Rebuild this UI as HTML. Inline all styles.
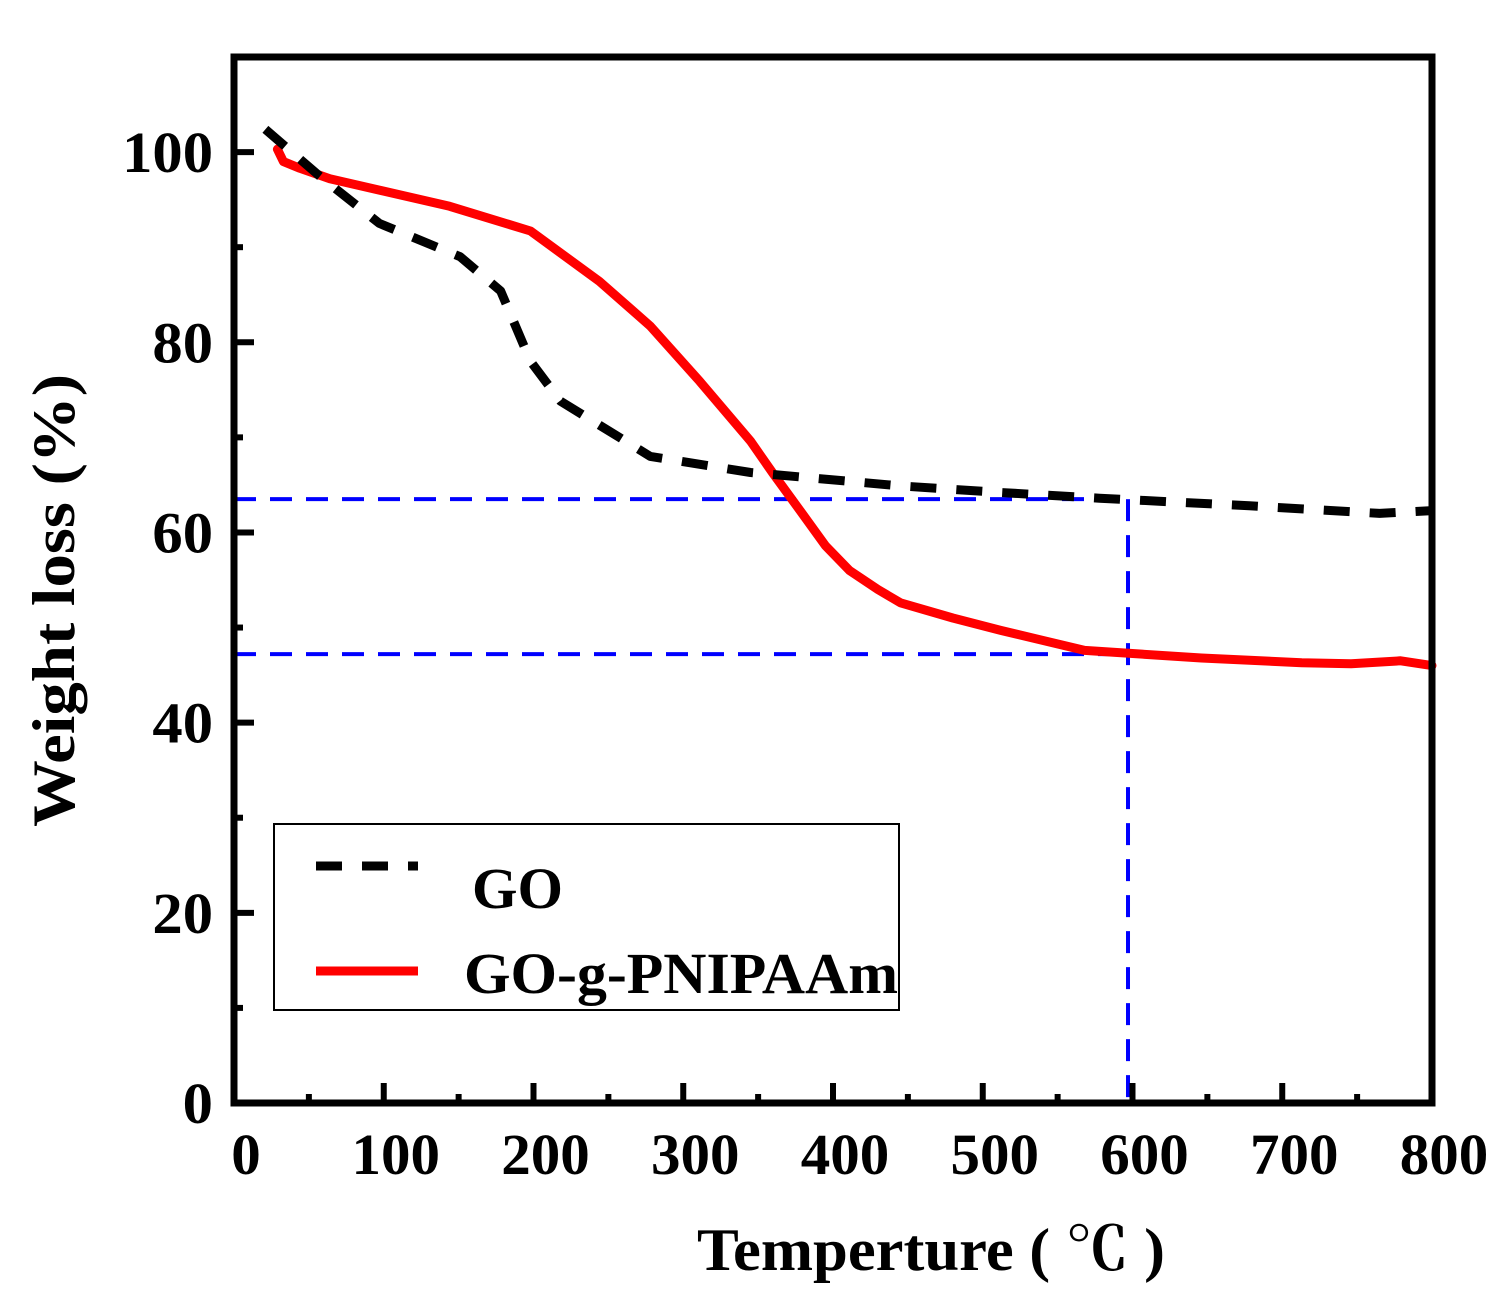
<!DOCTYPE html>
<html><head><meta charset="utf-8"><style>
body{margin:0;background:#fff}
svg text{font-family:"Liberation Serif","Noto Serif CJK SC",serif;font-weight:bold}
</style></head><body>
<svg width="1509" height="1304" xmlns="http://www.w3.org/2000/svg">
<g id="plot"></g>
</svg>
<script>
const goT=[21,57,97,151,178,198,218,278,345,445,512,578,678,765,800];
const goW=[102.4,97.5,92.5,89,85.4,78,73.8,68,66.3,64.9,64.2,63.6,62.8,62,62.3];
const pnT=[29,33,44,64,144,198,244,278,311,345,360,378,395,411,430,445,480,512,568,646,713,746,779,800];
const pnW=[100.3,99,98.3,97.2,94.3,91.7,86.4,81.7,75.9,69.6,66.2,62.3,58.6,56,54,52.6,51,49.7,47.6,46.8,46.3,46.2,46.5,46];
const xTicks=[0,100,200,300,400,500,600,700,800];
const yTicks=[0,20,40,60,80,100];
const refGO=63.5, refPN=47.2, refT=597;

const X0=234,X1=1432,Y0=1103,Y1=57;
const sx=t=>X0+(t-0)*(X1-X0)/800;
const sy=v=>Y0-(v-0)*(Y0-Y1)/110;
const ns="http://www.w3.org/2000/svg";
const g=document.getElementById('plot');
function mk(tag,attrs){const e=document.createElementNS(ns,tag);for(const k in attrs)e.setAttribute(k,attrs[k]);g.appendChild(e);return e;}
function pts(T,W){return T.map((t,i)=>sx(t).toFixed(1)+','+sy(W[i]).toFixed(1)).join(' ');}

let e=mk('line',{x1:X0,y1:sy(refGO),x2:sx(refT),y2:sy(refGO),stroke:'#0000ff','stroke-width':4,'stroke-dasharray':'22 14'});


e=mk('line',{x1:X0,y1:sy(refPN),x2:sx(refT),y2:sy(refPN),stroke:'#0000ff','stroke-width':4,'stroke-dasharray':'22 14'});


e=mk('line',{x1:sx(refT),y1:sy(refGO),x2:sx(refT),y2:Y0,stroke:'#0000ff','stroke-width':4,'stroke-dasharray':'22 14'});



e=mk('polyline',{points:pts(pnT,pnW),fill:'none',stroke:'#ff0000','stroke-width':9,'stroke-linejoin':'round','stroke-linecap':'round'});


e=mk('polyline',{points:pts(goT,goW),fill:'none',stroke:'#000','stroke-width':9,'stroke-dasharray':'26 20','stroke-linejoin':'round'});



e=mk('rect',{x:X0,y:Y1,width:X1-X0,height:Y0-Y1,fill:'none',stroke:'#000','stroke-width':7});



xTicks.forEach((t,i)=>{
  let l=mk('line',{x1:sx(t),y1:Y0,x2:sx(t),y2:Y0-20,stroke:'#000','stroke-width':6});
  
  
  if(i<xTicks.length-1){let m=mk('line',{x1:sx(t+50),y1:Y0,x2:sx(t+50),y2:Y0-9,stroke:'#000','stroke-width':6});
  
  }
  const s=String(t);
  let tx=mk('text',{x:sx(t)+12,y:1174,'font-size':58,'text-anchor':'middle',textLength:s.length*29.5,lengthAdjust:'spacingAndGlyphs'});tx.textContent=s;
  
  
});
yTicks.forEach((v,i)=>{
  let l=mk('line',{x1:X0,y1:sy(v),x2:X0+20,y2:sy(v),stroke:'#000','stroke-width':6});
  
  
  let m=mk('line',{x1:X0,y1:sy(v+10),x2:X0+9,y2:sy(v+10),stroke:'#000','stroke-width':6});
  
  
  const s=String(v);
  let tx=mk('text',{x:213-s.length*30.3,y:sy(v)+20,'font-size':58,textLength:s.length*30.3,lengthAdjust:'spacingAndGlyphs'});tx.textContent=s;
  
  
});

e=mk('text',{x:-226,y:0,'font-size':60,textLength:453,lengthAdjust:'spacingAndGlyphs',transform:'translate(74,601) rotate(-90)'});e.textContent='Weight loss (%)';


e=mk('text',{x:697,y:1270,'font-size':60,textLength:468,lengthAdjust:'spacingAndGlyphs'});e.textContent='Temperture ( ℃  )';



e=mk('rect',{x:274,y:824,width:625,height:186,fill:'#fff',stroke:'#000','stroke-width':2});


e=mk('line',{x1:316,y1:866,x2:418,y2:866,stroke:'#000','stroke-width':9,'stroke-dasharray':'26 20'});


e=mk('text',{x:472,y:908,'font-size':58,textLength:91,lengthAdjust:'spacingAndGlyphs'});e.textContent='GO';


e=mk('line',{x1:316,y1:971,x2:418,y2:971,stroke:'#ff0000','stroke-width':9});


e=mk('text',{x:464,y:993,'font-size':58,textLength:434,lengthAdjust:'spacingAndGlyphs'});e.textContent='GO-g-PNIPAAm';


</script>
</body></html>
